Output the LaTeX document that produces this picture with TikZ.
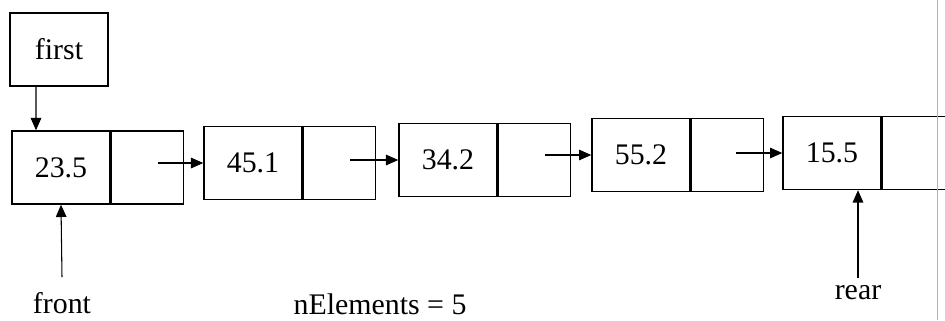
\documentclass[tikz,border=0pt]{standalone}
\usepackage{fontspec}
\setmainfont{Liberation Serif}
\usetikzlibrary{positioning, arrows.meta}

\begin{document}
\begin{tikzpicture}[
        datacell/.style={rectangle, draw, thick, minimum width=1.96cm, minimum height=1.46cm, inner sep=0pt, font=\fontsize{17}{20}\selectfont},
        ptrcell/.style={rectangle, draw, thick, minimum width=1.44cm, minimum height=1.46cm, inner sep=0pt},
        ptr/.style={-{Triangle[length=7pt, width=6pt]}, semithick},
        lbl/.style={font=\fontsize{17}{20}\selectfont, inner sep=1pt}
    ]
        \clip (0,0) rectangle (18.9,6.4);

        % Draw nodes
        \node[datacell] (first) at (1.18,5.41) {first};
        \node[datacell] (d1) at (1.22,3.05) {23.5};
        \node[ptrcell, right=0pt of d1] (p1) {};
        \node[datacell] (d2) at (5.06,3.14) {45.1};
        \node[ptrcell, right=0pt of d2] (p2) {};
        \node[datacell] (d3) at (8.96,3.20) {34.2};
        \node[ptrcell, right=0pt of d3] (p3) {};
        \node[datacell] (d4) at (12.82,3.30) {55.2};
        \node[ptrcell, right=0pt of d4] (p4) {};
        \node[datacell] (d5) at (16.64,3.34) {15.5};
        \node[ptrcell, right=0pt of d5] (p5) {};

        % Labels
        \node[lbl] (front) at (1.24,0.34) {front};
        \node[lbl] (count) at (7.60,0.32) {nElements = 5};
        \node[lbl] (rear) at (17.16,0.54) {rear};

        % Draw connections
        \draw[ptr] ([xshift=-0.46cm]first.south) -- ([xshift=-0.5cm]d1.north);
        \draw[ptr] ([xshift=0.22cm]p1.center |- d2.west) -- (d2.west);
        \draw[ptr] ([xshift=0.22cm]p2.center |- d3.west) -- (d3.west);
        \draw[ptr] ([xshift=0.22cm]p3.center |- d4.west) -- (d4.west);
        \draw[ptr] ([xshift=0.18cm]p4.center |- d5.west) -- (d5.west);
        \draw[ptr] ([yshift=0.26cm]front.north) -- (d1.south);
        \draw[ptr] ([yshift=0.12cm]rear.north) -- (rear.north |- d5.south);

        % page edge
        \draw[gray!60, thin] (18.74,0) -- (18.74,6.4);
    \end{tikzpicture}
\end{document}
